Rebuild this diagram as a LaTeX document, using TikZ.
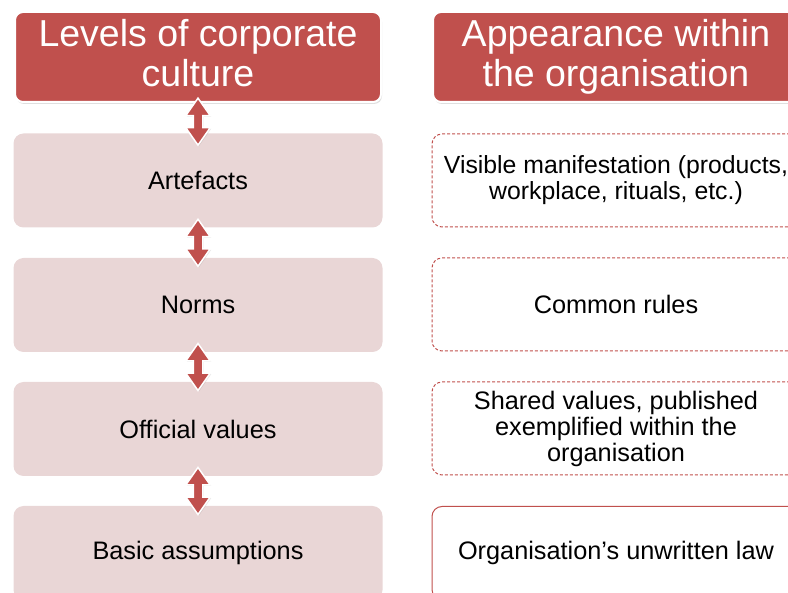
\documentclass[tikz,border=0pt]{standalone}
\usepackage{fontspec}
\setmainfont{Liberation Sans}
\usetikzlibrary{shapes, arrows, positioning, shadows}

\definecolor{corpred}{RGB}{192,80,77}
\definecolor{corplight}{RGB}{233,214,214}

\tikzset{
  head/.style={draw=white, line width=2pt, rounded corners=8pt, fill=corpred, text=white,
    minimum width=366pt, minimum height=90pt, align=center,
    font=\fontsize{37.5}{40}\selectfont,
    execute at end node={\rule[-7.5pt]{0pt}{7.5pt}},
    drop shadow={shadow xshift=1pt, shadow yshift=-2pt, opacity=0.25}},
  level/.style={rounded corners=10pt, fill=corplight, minimum width=369pt, minimum height=94pt,
    align=center, font=\fontsize{25.3}{26}\selectfont},
  look/.style={draw=corpred, line width=1pt, dash pattern=on 3pt off 2pt, rounded corners=10pt,
    minimum width=368pt, minimum height=93pt, align=center, font=\fontsize{25.3}{26}\selectfont},
  updown/.style={double arrow, rotate=90, fill=corpred, draw=white, line width=1.5pt,
    minimum height=47pt, inner sep=4pt, double arrow head extend=7.5pt,
    double arrow tip angle=70,
    drop shadow={shadow xshift=1pt, shadow yshift=-1pt, opacity=0.2}}
}

\begin{document}
\begin{tikzpicture}[x=1pt, y=-1pt]
   \clip (0, 0) rectangle (788, 593);

   \node[head] (H1) at (198, 57) {Levels of corporate\\culture};
   \node[head] (H2) at (616, 57) {Appearance within\\the organisation};

   \node[level] (L1) at (198, 180.5) {Artefacts};
   \node[level] (L2) at (198, 305) {Norms};
   \node[level] (L3) at (198, 429) {Official values};
   \node[level] (L4) at (198, 553) {Basic assumptions};

   \node[look, font=\fontsize{24.8}{26}\selectfont] (R1) at (616, 180.5) {Visible manifestation (products,\\workplace, rituals, etc.)};
   \node[look] (R2) at (616, 304.5) {Common rules};
   \node[look] (R3) at (616, 428.5) {Shared values, published\\exemplified within the\\organisation};
   \node[look, solid] (R4) at (616, 553) {Organisation’s unwritten law};

   \path (H1) -- node[pos=0.615, updown] (A1) {} (L1);
   \path (L1) -- node[updown] (A2) {} (L2);
   \path (L2) -- node[updown] (A3) {} (L3);
   \path (L3) -- node[updown] (A4) {} (L4);
\end{tikzpicture}
\end{document}
